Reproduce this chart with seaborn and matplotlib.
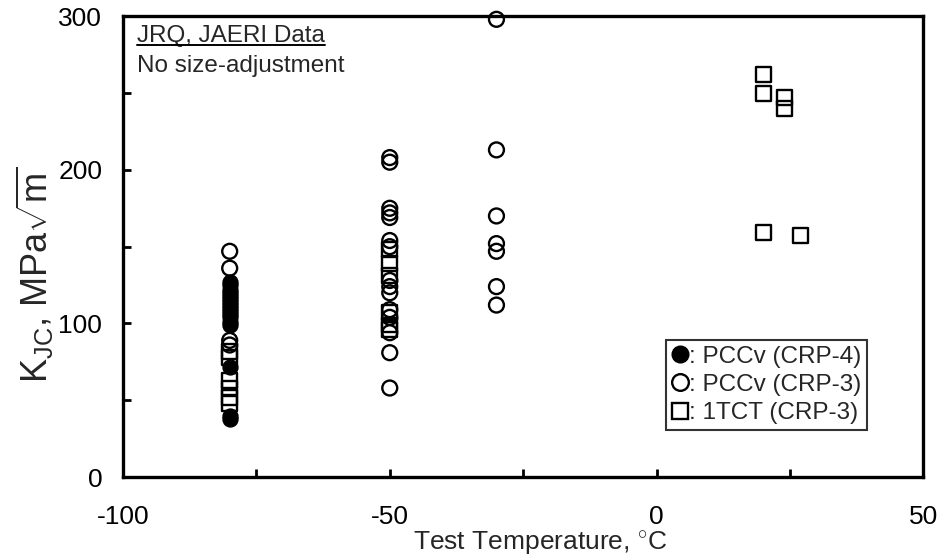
import numpy as np
import pandas as pd
import seaborn as sns
import matplotlib.pyplot as plt
from matplotlib.lines import Line2D
from matplotlib.transforms import IdentityTransform

############################## data ##############################

# PCCv (CRP-4), filled circles
crp4_temp = [-80, -80, -80, -80, -80, -80, -80, -80, -80, -80,
             -80, -80, -80, -80, -80, -80, -80]
crp4_kjc = [127, 125, 122, 120, 118, 116, 114, 112, 110, 108,
            106, 104, 101, 99, 72, 40, 38]

# PCCv (CRP-3), open circles
crp3_temp = [-80, -80, -80, -80,
             -50, -50, -50, -50, -50, -50, -50, -50, -50, -50, -50, -50, -50, -50, -50,
             -30, -30, -30, -30, -30, -30, -30]
crp3_kjc = [147, 136, 89, 86,
            208, 205, 175, 172, 169, 154, 128, 124, 120, 109, 104, 94, 81, 58, 150,
            298, 213, 170, 152, 147, 124, 112]

# 1TCT (CRP-3), open squares
tct_temp = [-80, -80, -80, -80, -80, -80,
            -50, -50, -50, -50, -50, -50,
            20, 20, 24, 24, 20, 27]
tct_kjc = [82, 78, 63, 58, 52, 48,
           148, 139, 131, 107, 99, 96,
           262, 250, 247, 240, 159, 157]

series_labels = [': PCCv (CRP-4)', ': PCCv (CRP-3)', ': 1TCT (CRP-3)']
x_ticks = [-100, -50, 0, 50]
y_ticks = [0, 100, 200, 300]

############################## style ##############################

sns.set_style('ticks')
plt.rcParams['font.family'] = ['Liberation Sans', 'DejaVu Sans']
plt.rcParams['mathtext.fontset'] = 'custom'
plt.rcParams['mathtext.rm'] = 'Liberation Sans'
plt.rcParams['mathtext.it'] = 'Liberation Sans:italic'
plt.rcParams['axes.unicode_minus'] = False

fig, ax = plt.subplots(figsize=(9.46, 5.6), dpi=100)
fig.subplots_adjust(left=0.130, right=0.976, top=0.971, bottom=0.148)

df_crp4 = pd.DataFrame({'temp': crp4_temp, 'kjc': crp4_kjc})
df_crp3 = pd.DataFrame({'temp': crp3_temp, 'kjc': crp3_kjc})
df_tct = pd.DataFrame({'temp': tct_temp, 'kjc': tct_kjc})

msize = 115
sns.scatterplot(data=df_tct, x='temp', y='kjc', marker='s', s=msize,
                facecolor='none', edgecolor='black', linewidth=1.7, ax=ax, clip_on=False)
sns.scatterplot(data=df_crp3, x='temp', y='kjc', marker='o', s=msize,
                facecolor='none', edgecolor='black', linewidth=1.7, ax=ax, clip_on=False)
sns.scatterplot(data=df_crp4, x='temp', y='kjc', marker='o', s=msize,
                color='black', edgecolor='black', linewidth=1.0, ax=ax, zorder=3)

############################## axes ##############################

ax.set_xlim(-100, 50)
ax.set_ylim(0, 300)
ax.set_xticks(x_ticks)
ax.set_yticks(y_ticks)
ax.set_xticks([-75, -25, 25], minor=True)
ax.set_yticks([50, 150, 250], minor=True)
ax.tick_params(axis='both', which='both', direction='in', length=6, width=2,
               labelsize=19, colors='black')
ax.tick_params(axis='x', which='major', pad=20)
ax.tick_params(axis='y', which='major', pad=15)
for side in ['top', 'right', 'left', 'bottom']:
    ax.spines[side].set_visible(True)
    ax.spines[side].set_linewidth(2.4)
    ax.spines[side].set_color('black')

ax.set_xlabel('Test Temperature, $^{\\circ}$C', fontsize=19)
ax.set_ylabel(r'K$_{\mathrm{JC}}$, MPa$\sqrt{\mathrm{m}}$', fontsize=26)
# the original labels sit a little off-centre
ax.xaxis.set_label_coords(0.521, -0.113)
ax.yaxis.set_label_coords(-0.084, 0.44)

title_txt = ax.text(0.0175, 0.957, 'JRQ, JAERI Data', transform=ax.transAxes,
                    fontsize=17.5, ha='left', va='center')
ax.text(0.0175, 0.893, 'No size-adjustment', transform=ax.transAxes,
        fontsize=17.5, ha='left', va='center')

# legend with the marker in front of the colon
handles = [
    Line2D([], [], marker='o', linestyle='none', markersize=12,
           markerfacecolor='black', markeredgecolor='black'),
    Line2D([], [], marker='o', linestyle='none', markersize=12,
           markerfacecolor='none', markeredgecolor='black', markeredgewidth=1.7),
    Line2D([], [], marker='s', linestyle='none', markersize=12,
           markerfacecolor='none', markeredgecolor='black', markeredgewidth=1.7),
]
leg = ax.legend(handles, series_labels, loc='lower right', bbox_to_anchor=(0.93, 0.102),
                borderaxespad=0, fontsize=17.5, handlelength=0.7, handletextpad=0.0,
                labelspacing=0.25, borderpad=0.25, frameon=True, fancybox=False)
leg.get_frame().set_edgecolor('black')
leg.get_frame().set_linewidth(1.5)

# underline for the data-source caption
fig.canvas.draw()
bb = title_txt.get_window_extent()
fig.add_artist(Line2D([bb.x0, bb.x1], [bb.y0 + 2, bb.y0 + 2], color='black',
                      linewidth=1.4, transform=IdentityTransform()))

fig.savefig('out.png', dpi=100)
